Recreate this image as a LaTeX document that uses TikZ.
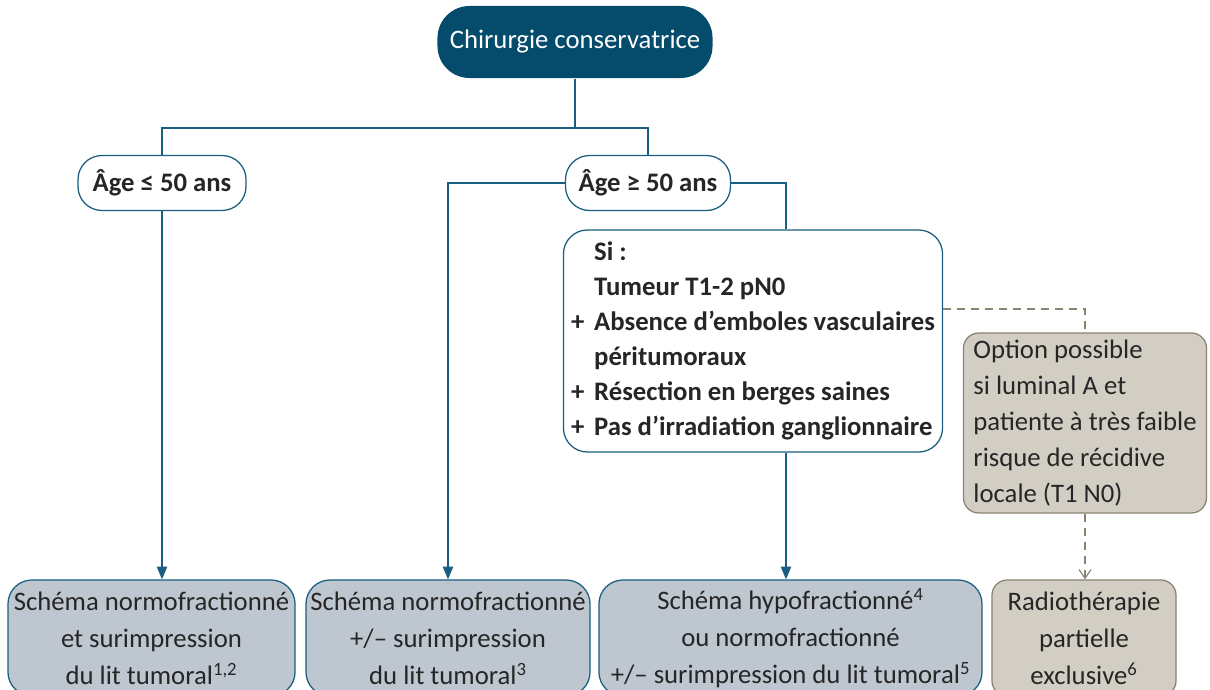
\documentclass[tikz,border=0pt]{standalone}
\usepackage{fontspec}
\setmainfont{Carlito}
\usetikzlibrary{arrows.meta,positioning}

\definecolor{bleufonce}{HTML}{054C6C}
\definecolor{bleutrait}{HTML}{1B5F80}
\definecolor{grisbleu}{HTML}{BEC7D0}
\definecolor{beige}{HTML}{D3CEC3}
\definecolor{brun}{HTML}{8A8372}
\definecolor{texte}{HTML}{262626}

\begin{document}
\begin{tikzpicture}[x=0.025cm, y=-0.025cm,
	trait/.style={bleutrait, line width=0.9pt},
	fleche/.style={trait, -{Triangle[length=3.2mm, width=2.6mm]}},
	tirets/.style={brun, line width=0.8pt, dash pattern=on 2mm off 1.5mm},
	flechetirets/.style={tirets, -{Straight Barb[length=2.2mm, width=3mm]}},
	boite/.style={draw=bleutrait, line width=0.9pt, rounded corners=0.6cm, text=texte,
		align=center, inner sep=0pt, font=\fontsize{19}{26.3}\selectfont},
	age/.style={boite, fill=white, minimum height=1.375cm, font=\fontsize{19}{26.3}\selectfont\bfseries},
	schema/.style={boite, fill=grisbleu, minimum height=2.9cm},
	option/.style={boite, draw=brun, fill=beige, rounded corners=0.38cm}]

	\clip (0,0) rectangle (1210,690);

%chirurgie
	\node[boite, fill=bleufonce, draw=none, text=white, rounded corners=0.8cm,
		minimum width=6.875cm, minimum height=1.8cm] (chir) at (575,42) {Chirurgie conservatrice};

%age
	\node[age, minimum width=4.2cm] (jeune) at (162,183) {Âge ≤ 50 ans};
	\node[age, minimum width=4.125cm] (agee) at (648,183) {Âge ≥ 50 ans};

%conditions
	\node[boite, fill=white, minimum width=9.475cm, minimum height=5.55cm, align=left,
		font=\fontsize{19}{25}\selectfont\bfseries] (si) at (753,341)
		{\begin{tabular}{@{}l@{\hspace{7pt}}l@{}}
			& Si :\\
			& Tumeur T1-2 pN0\\
			+ & Absence d’emboles vasculaires\\
			& péritumoraux\\
			+ & Résection en berges saines\\
			+ & Pas d’irradiation ganglionnaire
		\end{tabular}};

%option
	\node[option, minimum width=6.075cm, minimum height=4.475cm, align=left,
		font=\fontsize{19}{25.6}\selectfont] (opt) at (1085,423)
		{\begin{tabular}{@{}l@{}}
			Option possible\\
			si luminal A et\\
			patiente à très faible\\
			risque de récidive\\
			locale (T1 N0)
		\end{tabular}};

%schemas
	\node[schema, minimum width=7.175cm] (b1) at (151.5,638)
		{Schéma normofractionné\\et surimpression\\du lit tumoral\textsuperscript{1,2}};
	\node[schema, minimum width=7.1cm] (b2) at (448,638)
		{Schéma normofractionné\\+/– surimpression\\du lit tumoral\textsuperscript{3}};
	\node[schema, minimum width=9.575cm] (b3) at (790.5,638)
		{Schéma hypofractionné\textsuperscript{4}\\ou normofractionné\\+/– surimpression du lit tumoral\textsuperscript{5}};
	\node[option, minimum width=4.6cm, minimum height=2.9cm] (b4) at (1084,638)
		{Radiothérapie\\partielle\\exclusive\textsuperscript{6}};

%liaisons
	\coordinate (bif) at (575,128);
	\coordinate (xsi) at (786,0);
	\coordinate (ytir) at (0,309);
	\draw[trait] (chir) -- (bif);
	\draw[trait] (jeune.north) |- (bif) -| (agee.north);
	\draw[fleche] (jeune.south) -- (jeune.south |- b1.north);
	\draw[fleche] (agee.west) -| (b2.north);
	\draw[trait] (agee.east) -| (xsi |- si.north);
	\draw[fleche] (xsi |- si.south) -- (xsi |- b3.north);
	\draw[tirets] (si.east |- ytir) -| (opt.north);
	\draw[flechetirets] (opt.south) -- (opt.south |- b4.north);
\end{tikzpicture}
\end{document}
